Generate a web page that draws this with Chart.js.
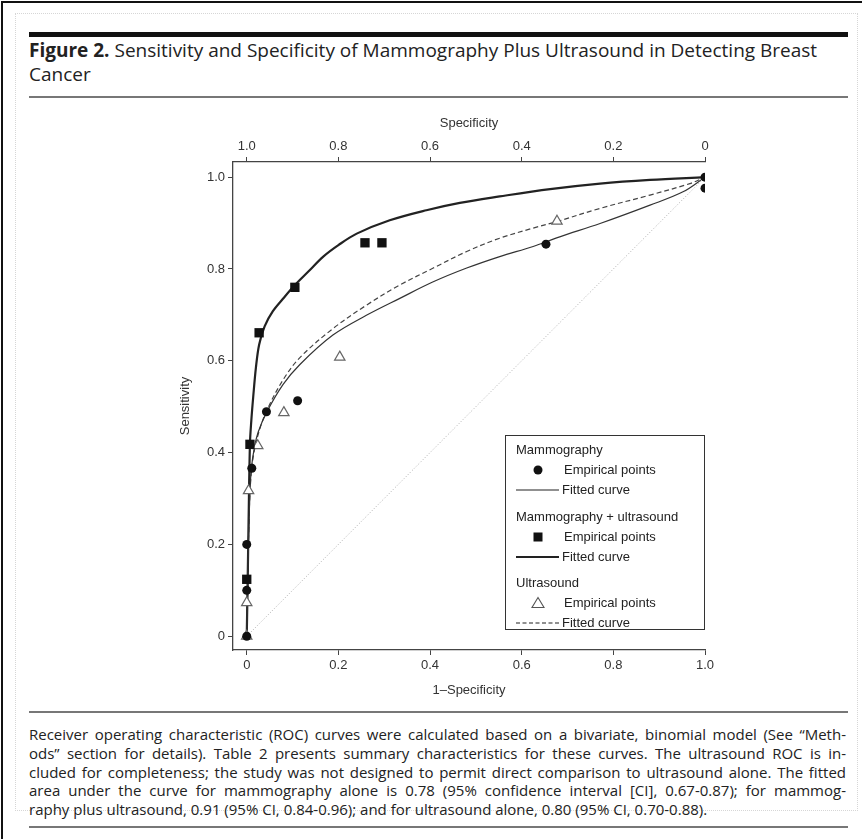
<!DOCTYPE html>
<html>
<head>
<meta charset="utf-8">
<script src="https://cdn.jsdelivr.net/npm/chart.js@4/dist/chart.umd.min.js"></script>
<style>
  body { margin: 0; background: #fff; }
  #page { position: relative; width: 862px; height: 839px; overflow: hidden; background: #fff; }
  .edge { position: absolute; left: 1px; top: 1px; right: 0; bottom: 0; border-top: 2px solid #111; border-left: 2px solid #111; }
  .frame { position: absolute; left: 15px; top: 13px; width: 841px; height: 796px; border: 1px dotted #d6d6d6; }
  .bar { position: absolute; left: 29px; width: 819px; }
  .title { position: absolute; left: 29px; top: 38px; width: 830px; font-family: "Open Sans", sans-serif; font-size: 19px; line-height: 24px; color: #222; white-space: nowrap; }
  .title b { font-weight: 700; }
  .caption { position: absolute; left: 29px; top: 725px; width: 817px; font-family: "Open Sans", sans-serif; font-size: 15px; line-height: 18.8px; color: #222; }
  .caption div { text-align: justify; text-align-last: justify; white-space: nowrap; }
  .caption div.last { text-align-last: left; }
  canvas { position: absolute; left: 0; top: 100px; }
</style>
</head>
<body>
<div id="page">
  <div class="edge"></div>
  <div class="frame"></div>
  <div class="bar" style="top:32px;height:5px;background:#111"></div>
  <div class="title"><b>Figure 2.</b> Sensitivity and Specificity of Mammography Plus Ultrasound in Detecting Breast<br>Cancer</div>
  <div class="bar" style="top:96px;height:2px;background:#777"></div>
  <canvas id="roc" width="862" height="605"></canvas>
  <div class="bar" style="top:711px;height:2px;background:#777"></div>
  <div class="caption">
    <div>Receiver operating characteristic (ROC) curves were calculated based on a bivariate, binomial model (See “Meth-</div>
    <div>ods” section for details). Table 2 presents summary characteristics for these curves. The ultrasound ROC is in-</div>
    <div>cluded for completeness; the study was not designed to permit direct comparison to ultrasound alone. The fitted</div>
    <div>area under the curve for mammography alone is 0.78 (95% confidence interval [CI], 0.67-0.87); for mammog-</div>
    <div class="last">raphy plus ultrasound, 0.91 (95% CI, 0.84-0.96); and for ultrasound alone, 0.80 (95% CI, 0.70-0.88).</div>
  </div>
  <div class="bar" style="top:826px;height:2px;background:#777"></div>
</div>
<script>
// empirical points (1-specificity, sensitivity)
const mammoPtsX = [0, 0, 0, 0.011, 0.043, 0.111, 0.653, 1.0, 1.0];
const mammoPtsY = [0, 0.10, 0.20, 0.366, 0.489, 0.513, 0.854, 1.0, 0.976];

const comboPtsX = [0, 0.007, 0.027, 0.105, 0.258, 0.295];
const comboPtsY = [0.124, 0.418, 0.661, 0.760, 0.857, 0.857];

const usPtsX = [0, 0, 0.004, 0.024, 0.081, 0.203, 0.677];
const usPtsY = [0, 0.073, 0.317, 0.415, 0.487, 0.608, 0.904];

// fitted curves
const mammoFitX = [0, 0.002, 0.004, 0.007, 0.010, 0.017, 0.025, 0.043, 0.079, 0.116, 0.188, 0.261, 0.334, 0.407, 0.480, 0.552, 0.625, 0.683, 0.771, 0.880, 0.952, 1.0];
const mammoFitY = [0, 0.12, 0.22, 0.31, 0.365, 0.413, 0.445, 0.487, 0.548, 0.592, 0.656, 0.699, 0.736, 0.772, 0.802, 0.827, 0.849, 0.870, 0.899, 0.939, 0.968, 1.0];

const comboFitX = [0, 0.002, 0.004, 0.007, 0.010, 0.014, 0.020, 0.027, 0.039, 0.057, 0.079, 0.105, 0.135, 0.167, 0.200, 0.240, 0.312, 0.392, 0.465, 0.552, 0.662, 0.771, 0.880, 1.0];
const comboFitY = [0, 0.12, 0.25, 0.42, 0.47, 0.52, 0.585, 0.635, 0.675, 0.708, 0.735, 0.765, 0.795, 0.827, 0.852, 0.877, 0.906, 0.928, 0.944, 0.958, 0.974, 0.986, 0.994, 1.0];

const usFitX = [0, 0.002, 0.004, 0.008, 0.014, 0.025, 0.043, 0.079, 0.116, 0.188, 0.261, 0.334, 0.407, 0.480, 0.552, 0.625, 0.676, 0.771, 0.880, 0.967, 1.0];
const usFitY = [0, 0.10, 0.22, 0.33, 0.39, 0.44, 0.49, 0.558, 0.607, 0.670, 0.721, 0.765, 0.802, 0.838, 0.867, 0.889, 0.903, 0.932, 0.961, 0.986, 1.0];

const chanceX = [0, 1];
const chanceY = [0, 1];

const legendGroups = ['Mammography', 'Mammography + ultrasound', 'Ultrasound'];
const legendItems = ['Empirical points', 'Fitted curve'];

const pts = (xs, ys) => xs.map((x, i) => ({ x: x, y: ys[i] }));
const fmt = v => (Math.abs(v) < 1e-9 ? '0' : v.toFixed(1));
const tickFont = { family: '"Liberation Sans", Arial, sans-serif', size: 13 };

// grouped legend box in the lower right of the plot
const groupedLegend = {
    id: 'groupedLegend',
    afterDatasetsDraw(chart) {
        const { ctx, chartArea: a } = chart;
        const bx = a.right - 200, by = a.bottom - 215, w = 199, h = 194;
        ctx.save();
        ctx.fillStyle = '#fff';
        ctx.fillRect(bx, by, w, h);
        ctx.strokeStyle = '#333';
        ctx.lineWidth = 1;
        ctx.strokeRect(bx + 0.5, by + 0.5, w, h);
        ctx.font = '13px "Liberation Sans", Arial, sans-serif';
        ctx.textBaseline = 'middle';

        const groupTop = [15, 82, 148];
        groupTop.forEach((gy, g) => {
            ctx.fillStyle = '#222';
            ctx.fillText(legendGroups[g], bx + 11, by + gy);
            ctx.fillText(legendItems[0], bx + 59, by + gy + 20);
            ctx.fillText(legendItems[1], bx + 57, by + gy + 40);

            // marker sample
            const mx = bx + 33, my = by + gy + 20;
            ctx.beginPath();
            if (g === 0) {
                ctx.arc(mx, my, 4.5, 0, Math.PI * 2);
                ctx.fillStyle = '#111';
                ctx.fill();
            } else if (g === 1) {
                ctx.fillStyle = '#111';
                ctx.fillRect(mx - 4.5, my - 4.5, 9, 9);
            } else {
                ctx.moveTo(mx, my - 5.5);
                ctx.lineTo(mx + 6, my + 4.5);
                ctx.lineTo(mx - 6, my + 4.5);
                ctx.closePath();
                ctx.strokeStyle = '#555';
                ctx.lineWidth = 1.1;
                ctx.stroke();
            }

            // line sample
            const ly = by + gy + 40;
            ctx.beginPath();
            ctx.strokeStyle = '#222';
            ctx.lineWidth = g === 1 ? 2.2 : 1.1;
            ctx.setLineDash(g === 2 ? [4, 2.5] : []);
            ctx.moveTo(bx + 11, ly);
            ctx.lineTo(bx + 54, ly);
            ctx.stroke();
            ctx.setLineDash([]);
        });
        ctx.restore();
    }
};

const axisBase = {
    type: 'linear',
    grid: { drawOnChartArea: false, drawTicks: true, tickLength: 5, color: '#444', lineWidth: 1 },
    border: { display: true, color: '#444', width: 1.3 },
    ticks: { stepSize: 0.2, includeBounds: false, color: '#333', font: tickFont, padding: 3, callback: fmt, maxRotation: 0 },
    title: { display: true, color: '#333', font: tickFont, padding: 4 }
};

new Chart(document.getElementById('roc'), {
    type: 'scatter',
    data: {
        datasets: [
            {
                label: 'Mammography empirical',
                data: pts(mammoPtsX, mammoPtsY),
                pointStyle: 'circle', pointRadius: 4.5,
                backgroundColor: '#111', borderColor: '#111', borderWidth: 0,
                order: 0
            },
            {
                label: 'Mammography + ultrasound empirical',
                data: pts(comboPtsX, comboPtsY),
                pointStyle: 'rect', pointRadius: 6.6,
                backgroundColor: '#111', borderColor: '#111', borderWidth: 0,
                order: 0
            },
            {
                label: 'Ultrasound empirical',
                data: pts(usPtsX, usPtsY),
                pointStyle: 'triangle', pointRadius: 6,
                backgroundColor: '#fff', borderColor: '#666', borderWidth: 1.2,
                order: 0
            },
            {
                label: 'Mammography fitted',
                data: pts(mammoFitX, mammoFitY),
                showLine: true, pointRadius: 0, borderColor: '#333', borderWidth: 1.2,
                tension: 0.35, order: 1
            },
            {
                label: 'Mammography + ultrasound fitted',
                data: pts(comboFitX, comboFitY),
                showLine: true, pointRadius: 0, borderColor: '#222', borderWidth: 2.2,
                tension: 0.35, order: 1
            },
            {
                label: 'Ultrasound fitted',
                data: pts(usFitX, usFitY),
                showLine: true, pointRadius: 0, borderColor: '#444', borderWidth: 1.2,
                borderDash: [5, 3], tension: 0.35, order: 1
            },
            {
                label: 'Chance',
                data: pts(chanceX, chanceY),
                showLine: true, pointRadius: 0, borderColor: '#999', borderWidth: 0.8,
                borderDash: [1, 2], order: 2
            }
        ]
    },
    options: {
        responsive: false,
        animation: false,
        devicePixelRatio: 1,
        layout: { padding: { left: 174, right: 157, top: 12, bottom: 3 } },
        plugins: { legend: { display: false }, tooltip: { enabled: false } },
        scales: {
            x: {
                ...axisBase, position: 'bottom', min: -0.03, max: 1.0,
                title: { ...axisBase.title, text: '1–Specificity' },
                afterFit: s => { s.height = 52; }
            },
            x2: {
                ...axisBase, position: 'top', min: 0, max: 1.03, reverse: true,
                title: { ...axisBase.title, text: 'Specificity' },
                afterFit: s => { s.height = 50; }
            },
            y: {
                ...axisBase, position: 'left', min: -0.03, max: 1.033,
                title: { ...axisBase.title, text: 'Sensitivity' },
                afterFit: s => { s.width = 59; }
            }
        }
    },
    plugins: [groupedLegend]
});
</script>
</body>
</html>
